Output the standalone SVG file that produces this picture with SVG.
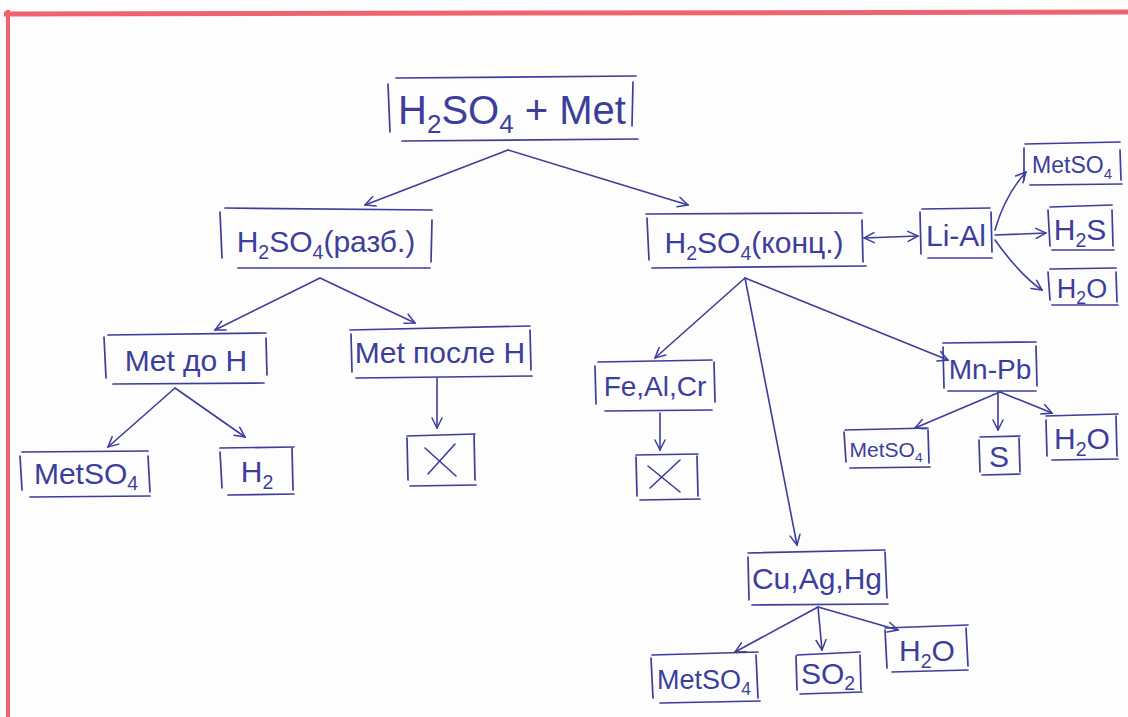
<svg xmlns="http://www.w3.org/2000/svg" width="1128" height="717" viewBox="0 0 1128 717">
  <defs>
    <style>
      .ink { fill: none; stroke: #3c3e9c; stroke-width: 1.6; stroke-linecap: round; stroke-linejoin: round; }
      .box { fill: none; stroke: #3c3e9c; stroke-width: 1.7; stroke-linecap: round; }
      .lbl { font-family: "Liberation Sans", "DejaVu Sans", sans-serif; fill: #3c3e9c; text-anchor: middle; }
      .big { font-size: 40px; }
      .mid { font-size: 30px; }
      .sm { font-size: 27px; }
      .sub { font-size: 0.65em; }
    </style>
    <marker id="arr" viewBox="0 0 12 12" refX="11" refY="6" markerWidth="12" markerHeight="12" markerUnits="userSpaceOnUse" orient="auto-start-reverse">
      <path d="M1 1 L11 6 L1 11" fill="none" stroke="#3c3e9c" stroke-width="1.5" stroke-linecap="round"/>
    </marker>
  </defs>

  <!-- paper -->
  <rect x="0" y="0" width="1128" height="717" fill="#fdfdfd"/>
  <!-- red margins -->
  <path d="M4 14 L1128 12" stroke="#ef6270" stroke-width="5" fill="none"/>
  <path d="M8 10 L8 717" stroke="#ef6270" stroke-width="4" fill="none"/>

  <!-- connectors -->
  <g id="connectors" class="ink" marker-end="url(#arr)">
    <path d="M508 150 L365 205"/>
    <path d="M508 150 L688 205"/>
    <path d="M864 238 L918 236" marker-start="url(#arr)"/>
    <path d="M995 230 Q1005 195 1026 172"/>
    <path d="M995 235 L1046 233"/>
    <path d="M995 240 Q1020 275 1042 290"/>
    <path d="M320 278 L215 330"/>
    <path d="M320 278 L415 323"/>
    <path d="M175 388 L108 447"/>
    <path d="M175 388 L245 437"/>
    <path d="M437 378 L437 428"/>
    <path d="M745 278 L655 358"/>
    <path d="M745 278 L797 545"/>
    <path d="M745 278 L948 360"/>
    <path d="M660 413 L660 450"/>
    <path d="M1000 392 L915 428"/>
    <path d="M998 392 L998 430"/>
    <path d="M1000 392 L1052 413"/>
    <path d="M818 607 L735 652"/>
    <path d="M818 607 L822 650"/>
    <path d="M818 607 L898 630"/>
  </g>

  <g id="n-root">
    <path class="box" d="M396 78 L636 76 M402 141 L638 139 M388 84 L390 132 M633 82 L632 126"/>
    <text class="lbl big" x="512" y="124">H<tspan class="sub" dy="9">2</tspan><tspan dy="-9">SO</tspan><tspan class="sub" dy="9">4</tspan><tspan dy="-9"> + Met</tspan></text>
  </g>

  <g id="n-dilute">
    <path class="box" d="M225 208 L432 210 M238 268 L430 268 M220 212 L222 258 M432 220 L431 262"/>
    <text class="lbl mid" x="326" y="252">H<tspan class="sub" dy="7">2</tspan><tspan dy="-7">SO</tspan><tspan class="sub" dy="7">4</tspan><tspan dy="-7">(разб.)</tspan></text>
  </g>

  <g id="n-conc">
    <path class="box" d="M646 214 L862 213 M652 268 L866 266 M647 218 L649 260 M862 220 L863 262"/>
    <text class="lbl mid" x="754" y="253">H<tspan class="sub" dy="7">2</tspan><tspan dy="-7">SO</tspan><tspan class="sub" dy="7">4</tspan><tspan dy="-7">(конц.)</tspan></text>
  </g>

  <g id="n-lial">
    <path class="box" d="M922 209 L990 208 M928 258 L992 258 M920 212 L921 254 M991 212 L992 252"/>
    <text class="lbl mid" x="956" y="246">Li-Al</text>
  </g>

  <g id="n-lial-salt">
    <path class="box" d="M1025 144 L1120 142 M1030 185 L1122 184 M1024 148 L1024 180 M1120 150 L1121 180"/>
    <text class="lbl" style="font-size:23px" x="1072" y="173">MetSO<tspan class="sub" dy="6">4</tspan></text>
  </g>

  <g id="n-lial-h2s">
    <path class="box" d="M1050 207 L1112 205 M1052 250 L1114 250 M1048 210 L1050 246 M1112 210 L1113 246"/>
    <text class="lbl mid" x="1080" y="240">H<tspan class="sub" dy="7">2</tspan><tspan dy="-7">S</tspan></text>
  </g>

  <g id="n-lial-h2o">
    <path class="box" d="M1050 269 L1116 268 M1052 305 L1118 305 M1048 272 L1050 300 M1116 272 L1117 302"/>
    <text class="lbl sm" x="1082" y="298">H<tspan class="sub" dy="6">2</tspan><tspan dy="-6">O</tspan></text>
  </g>

  <g id="n-before-h">
    <path class="box" d="M108 335 L266 333 M113 384 L264 383 M104 337 L106 378 M266 338 L267 375"/>
    <text class="lbl mid" x="186" y="371">Met до H</text>
  </g>

  <g id="n-after-h">
    <path class="box" d="M350 330 L530 326 M356 378 L532 376 M351 334 L352 372 M530 330 L531 370"/>
    <text class="lbl mid" x="440" y="363">Met после H</text>
  </g>

  <g id="n-after-h-none">
    <path class="box" d="M407 436 L475 434 M410 486 L476 485 M407 438 L408 480 M474 434 L475 480"/>
    <path class="ink" d="M425 448 L456 476 M455 444 L428 474"/>
  </g>

  <g id="n-before-h-salt">
    <path class="box" d="M22 452 L148 451 M30 497 L150 496 M20 456 L22 490 M148 456 L150 492"/>
    <text class="lbl mid" x="86" y="484">MetSO<tspan class="sub" dy="6">4</tspan></text>
  </g>

  <g id="n-before-h-h2">
    <path class="box" d="M220 448 L294 447 M228 495 L294 494 M220 452 L222 488 M292 448 L293 490"/>
    <text class="lbl mid" x="257" y="482">H<tspan class="sub" dy="7">2</tspan></text>
  </g>

  <g id="n-feal">
    <path class="box" d="M598 362 L712 360 M605 411 L712 410 M595 366 L596 404 M714 362 L715 402"/>
    <text class="lbl" style="font-size:28px" x="655" y="396">Fe,Al,Cr</text>
  </g>

  <g id="n-feal-none">
    <path class="box" d="M636 455 L698 454 M640 500 L700 499 M636 457 L637 496 M697 456 L698 496"/>
    <path class="ink" d="M648 466 L680 492 M680 460 L650 488"/>
  </g>

  <g id="n-mnpb">
    <path class="box" d="M943 343 L1036 342 M948 391 L1036 391 M943 347 L944 388 M1036 346 L1037 386"/>
    <text class="lbl" style="font-size:28px" x="990" y="379">Mn-Pb</text>
  </g>

  <g id="n-mnpb-salt">
    <path class="box" d="M845 430 L928 428 M850 468 L930 467 M844 432 L846 462 M928 430 L929 463"/>
    <text class="lbl" style="font-size:21px" x="886" y="457">MetSO<tspan class="sub" dy="5">4</tspan></text>
  </g>

  <g id="n-mnpb-s">
    <path class="box" d="M980 437 L1020 436 M982 475 L1020 474 M979 440 L980 472 M1019 438 L1020 472"/>
    <text class="lbl mid" x="999" y="467">S</text>
  </g>

  <g id="n-mnpb-h2o">
    <path class="box" d="M1046 416 L1118 414 M1052 460 L1118 459 M1046 420 L1047 456 M1116 416 L1117 456"/>
    <text class="lbl mid" x="1082" y="449">H<tspan class="sub" dy="7">2</tspan><tspan dy="-7">O</tspan></text>
  </g>

  <g id="n-cuaghg">
    <path class="box" d="M748 553 L885 550 M752 605 L888 604 M748 557 L749 600 M885 552 L887 598"/>
    <text class="lbl mid" x="817" y="589">Cu,Ag,Hg</text>
  </g>

  <g id="n-cuaghg-salt">
    <path class="box" d="M652 655 L758 652 M660 703 L760 701 M651 658 L653 698 M756 655 L758 698"/>
    <text class="lbl sm" x="704" y="689">MetSO<tspan class="sub" dy="6">4</tspan></text>
  </g>

  <g id="n-cuaghg-so2">
    <path class="box" d="M797 655 L860 652 M800 694 L862 692 M796 656 L797 690 M860 655 L861 690"/>
    <text class="lbl mid" x="828" y="684">SO<tspan class="sub" dy="6">2</tspan></text>
  </g>

  <g id="n-cuaghg-h2o">
    <path class="box" d="M885 628 L968 625 M892 672 L968 670 M885 630 L887 668 M966 628 L968 666"/>
    <text class="lbl mid" x="927" y="661">H<tspan class="sub" dy="7">2</tspan><tspan dy="-7">O</tspan></text>
  </g>
</svg>
